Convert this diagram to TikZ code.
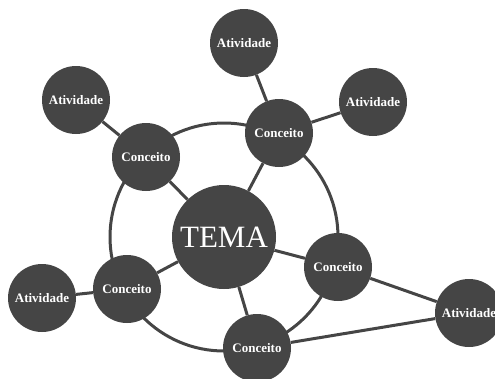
\documentclass[tikz,border=0pt]{standalone}
\usepackage{fontspec}
\setmainfont{Liberation Serif}
\usetikzlibrary{positioning,backgrounds}
\definecolor{charcoal}{HTML}{454545}

\begin{document}
\begin{tikzpicture}[x=1pt,y=-1pt,
    bubble/.style={circle,fill=charcoal,text=white,inner sep=0pt,
      minimum size=68pt,font=\bfseries\fontsize{13}{15}\selectfont},
    link/.style={draw=charcoal,line width=3pt}]
  \useasboundingbox (0,0) rectangle (495,378);
  % centro
  \node[bubble,minimum size=104pt,font=\fontsize{31}{35}\selectfont] (tema) at (224,237) {TEMA};
  % conceitos
  \node[bubble] (conTL) at (146,157) {Conceito};
  \node[bubble] (conTR) at (279,133) {Conceito};
  \node[bubble] (conR)  at (338,267) {Conceito};
  \node[bubble] (conL)  at (127,289) {Conceito};
  \node[bubble] (conB)  at (257,348) {Conceito};
  % atividades
  \node[bubble] (atvTop) at (244,43)  {Atividade};
  \node[bubble] (atvTL)  at (76,100)  {Atividade};
  \node[bubble] (atvTR)  at (373,102) {Atividade};
  \node[bubble] (atvL)   at (42,298)  {Atividade};
  \node[bubble] (atvR)   at (469,313) {Atividade};
  \begin{scope}[on background layer]
    \draw[link] (tema.center) circle[radius=114pt];
    \foreach \c in {conTL,conTR,conR,conL,conB}
      \draw[link] (tema) -- (\c);
    \draw[link] (conTL) -- (atvTL);
    \draw[link] (conTR) -- (atvTop);
    \draw[link] (conTR) -- (atvTR);
    \draw[link] (conL) -- (atvL);
    \draw[link] (conR) -- (atvR);
    \draw[link] (conB) -- (atvR);
  \end{scope}
\end{tikzpicture}
\end{document}
